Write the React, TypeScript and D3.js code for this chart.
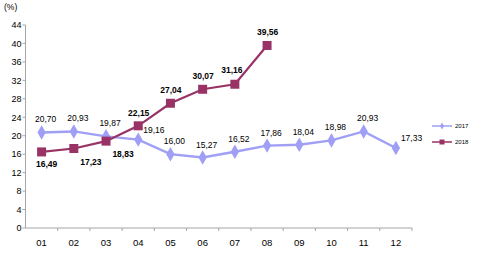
import React from "react";
import * as d3 from "d3";

const months = ["01", "02", "03", "04", "05", "06", "07", "08", "09", "10", "11", "12"];
const series2017 = [20.7, 20.93, 19.87, 19.16, 16.0, 15.27, 16.52, 17.86, 18.04, 18.98, 20.93, 17.33];
const series2018 = [16.49, 17.23, 18.83, 22.15, 27.04, 30.07, 31.16, 39.56];
const yTicks = [0, 4, 8, 12, 16, 20, 24, 28, 32, 36, 40, 44];
const place2017 = ["top", "top", "top", "right", "top", "top", "top", "top", "top", "top", "top", "right"];
const place2018 = ["bottom", "bottomr", "bottomr", "topc", "topc", "topc", "topl", "topc"];

const C2017 = "#9f9ff5";
const C2018 = "#993366";
const FONT = "Arial, 'Liberation Sans', sans-serif";

export default function App() {
  const W = 480, H = 262;
  const left = 25.5, right = 412, top = 25, bottom = 228;
  const x = d3.scaleBand<string>().domain(months).range([left, right]);
  const y = d3.scaleLinear().domain([0, 44]).range([bottom, top]);
  const cx = (i: number) => (x(months[i]) as number) + x.bandwidth() / 2;
  const line = d3.line<number>().x((_, i) => cx(i)).y((d) => y(d));
  const fmt = (v: number) => v.toFixed(2).replace(".", ",");

  const labelPos = (p: string, px: number, py: number) => {
    if (p === "right") return { x: px + 5, y: py - 7, a: "start" };
    if (p === "bottom") return { x: px + 5, y: py + 15, a: "middle" };
    if (p === "bottomr") return { x: px + 17, y: py + 16, a: "middle" };
    if (p === "topc") return { x: px + 0.5, y: py - 10, a: "middle" };
    if (p === "topl") return { x: px - 3, y: py - 11, a: "middle" };
    return { x: px + 4, y: py - 10, a: "middle" };
  };

  const diamond = d3.symbol().type(d3.symbolDiamond).size(60)();
  return (
    <div style={{ position: "absolute", left: 0, top: 0 }}>
      <svg width={W} height={H} style={{ display: "block", fontFamily: FONT }}>
        <rect width={W} height={H} fill="#fff" />
        <text x={4} y={10} fontSize={8.5} fill="#000">(%)</text>
        <line x1={left} x2={left} y1={top} y2={bottom} stroke="#a6a6a6" />
        <line x1={left} x2={right} y1={bottom} y2={bottom} stroke="#a6a6a6" />
        {yTicks.map((t) => (
          <g key={t}>
            <line x1={left - 3} x2={left} y1={y(t)} y2={y(t)} stroke="#a6a6a6" />
            <text x={21.5} y={y(t) + 3.3} fontSize={9} textAnchor="end" fill="#000">{t}</text>
          </g>
        ))}
        {months.map((m, i) => (
          <g key={m}>
            <line x1={(x(m) as number) + x.bandwidth()} x2={(x(m) as number) + x.bandwidth()} y1={bottom} y2={bottom + 3} stroke="#a6a6a6" />
            <text x={cx(i)} y={246} fontSize={9.5} textAnchor="middle" fill="#000">{m}</text>
          </g>
        ))}
        <path d={line(series2017) || ""} fill="none" stroke={C2017} strokeWidth={2.4} />
        {series2017.map((v, i) => (
          <path key={i} d={diamond || ""} transform={`translate(${cx(i)},${y(v)})`} fill={C2017} />
        ))}
        <path d={line(series2018) || ""} fill="none" stroke={C2018} strokeWidth={2.2} />
        {series2018.map((v, i) => (
          <rect key={i} x={cx(i) - 4.5} y={y(v) - 4.5} width={9} height={9} fill={C2018} />
        ))}
        {series2017.map((v, i) => {
          const p = labelPos(place2017[i], cx(i), y(v));
          return (
            <text key={i} x={p.x} y={p.y} fontSize={8.5} textAnchor={p.a as any} fill="#000">{fmt(v)}</text>
          );
        })}
        {series2018.map((v, i) => {
          const p = labelPos(place2018[i], cx(i), y(v));
          return (
            <text key={i} x={p.x} y={p.y} fontSize={8.5} fontWeight="bold" textAnchor={p.a as any} fill="#000">{fmt(v)}</text>
          );
        })}
        <g>
          <line x1={432} x2={452} y1={126} y2={126} stroke={C2017} strokeWidth={1.5} />
          <path d={d3.symbol().type(d3.symbolDiamond).size(14)() || ""} transform="translate(442,126)" fill={C2017} />
          <text x={455} y={128} fontSize={6} fill="#000">2017</text>
          <line x1={432} x2={452} y1={142} y2={142} stroke={C2018} strokeWidth={1.5} />
          <rect x={439.5} y={139.5} width={5} height={5} fill={C2018} />
          <text x={455} y={144} fontSize={6} fill="#000">2018</text>
        </g>
      </svg>
    </div>
  );
}
